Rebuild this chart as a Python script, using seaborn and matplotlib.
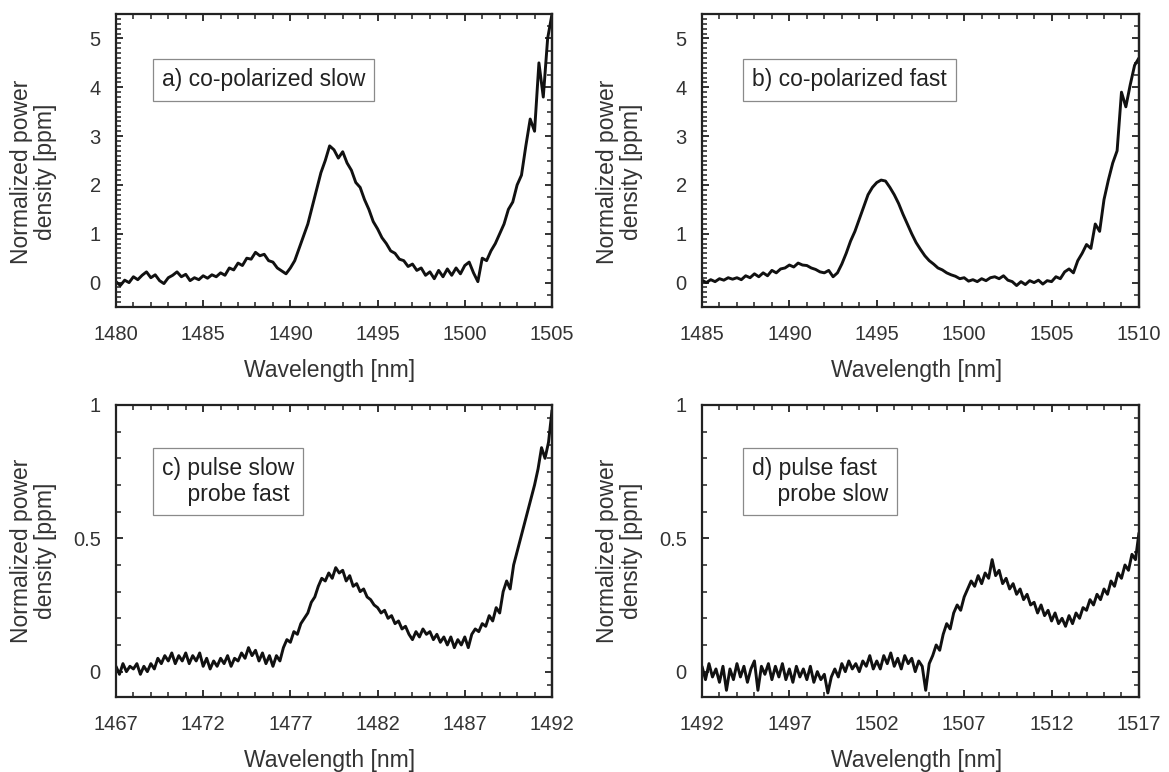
import numpy as np
import matplotlib
matplotlib.use("Agg")
import matplotlib.pyplot as plt
import seaborn as sns
from matplotlib.ticker import MultipleLocator, NullFormatter

# ---------------- data ----------------
a_start, a_stop = 1480.0, 1505.0
a_y = [0.02, -0.06, 0.05, 0.00, 0.12, 0.06, 0.15, 0.22, 0.10, 0.16,
       0.04, -0.02, 0.10, 0.15, 0.22, 0.12, 0.17, 0.04, 0.10, 0.06,
       0.14, 0.09, 0.16, 0.12, 0.20, 0.15, 0.30, 0.26, 0.40, 0.35,
       0.50, 0.48, 0.62, 0.55, 0.58, 0.45, 0.42, 0.30, 0.24, 0.18,
       0.30, 0.45, 0.70, 0.95, 1.20, 1.55, 1.90, 2.25, 2.50, 2.80,
       2.72, 2.55, 2.68, 2.45, 2.30, 2.05, 1.95, 1.70, 1.50, 1.25,
       1.10, 0.92, 0.80, 0.65, 0.60, 0.48, 0.45, 0.33, 0.38, 0.25,
       0.30, 0.15, 0.22, 0.08, 0.25, 0.12, 0.28, 0.15, 0.30, 0.18,
       0.35, 0.42, 0.20, 0.02, 0.50, 0.45, 0.65, 0.80, 1.00, 1.20,
       1.50, 1.65, 2.00, 2.20, 2.80, 3.35, 3.10, 4.50, 3.80, 5.00,
       5.50]

b_start, b_stop = 1485.0, 1510.0
b_y = [0.05, 0.00, 0.06, 0.02, 0.08, 0.05, 0.10, 0.07, 0.10, 0.06,
       0.14, 0.10, 0.18, 0.12, 0.20, 0.14, 0.25, 0.20, 0.28, 0.30,
       0.36, 0.32, 0.40, 0.36, 0.35, 0.30, 0.27, 0.22, 0.20, 0.25,
       0.12, 0.20, 0.38, 0.60, 0.85, 1.05, 1.30, 1.55, 1.80, 1.95,
       2.05, 2.10, 2.08, 1.95, 1.80, 1.62, 1.40, 1.20, 1.00, 0.82,
       0.68, 0.55, 0.45, 0.38, 0.30, 0.26, 0.20, 0.16, 0.13, 0.08,
       0.10, 0.03, 0.06, 0.02, 0.08, 0.04, 0.10, 0.12, 0.08, 0.14,
       0.05, 0.02, -0.06, 0.02, -0.04, 0.04, 0.00, 0.05, -0.03, 0.04,
       0.02, 0.12, 0.08, 0.22, 0.28, 0.20, 0.45, 0.60, 0.78, 0.70,
       1.20, 1.05, 1.70, 2.10, 2.45, 2.70, 3.90, 3.60, 4.05, 4.45,
       4.60]

c_start, c_stop = 1467.0, 1492.0
c_y = [0.02, -0.01, 0.03, 0.00, 0.02, 0.01, 0.03, -0.01, 0.02, 0.00,
       0.03, 0.01, 0.05, 0.03, 0.06, 0.04, 0.07, 0.03, 0.06, 0.04,
       0.07, 0.03, 0.06, 0.04, 0.07, 0.02, 0.05, 0.01, 0.04, 0.02,
       0.05, 0.03, 0.06, 0.02, 0.05, 0.04, 0.07, 0.05, 0.09, 0.06,
       0.08, 0.04, 0.07, 0.03, 0.06, 0.02, 0.06, 0.04, 0.09, 0.12,
       0.11, 0.15, 0.14, 0.18, 0.20, 0.22, 0.26, 0.28, 0.32, 0.35,
       0.34, 0.37, 0.35, 0.39, 0.37, 0.38, 0.34, 0.36, 0.32, 0.33,
       0.30, 0.31, 0.28, 0.27, 0.25, 0.24, 0.22, 0.23, 0.20, 0.21,
       0.18, 0.19, 0.16, 0.17, 0.14, 0.12, 0.15, 0.13, 0.16, 0.14,
       0.15, 0.12, 0.14, 0.11, 0.13, 0.10, 0.13, 0.09, 0.12, 0.10,
       0.13, 0.09, 0.14, 0.16, 0.15, 0.18, 0.17, 0.21, 0.19, 0.24,
       0.22, 0.30, 0.34, 0.31, 0.40, 0.45, 0.50, 0.55, 0.60, 0.65,
       0.70, 0.76, 0.84, 0.80, 0.86, 0.98]

d_start, d_stop = 1492.0, 1517.0
d_y = [0.02, -0.03, 0.03, -0.02, 0.01, -0.04, 0.02, -0.07, 0.01, -0.03,
       0.03, -0.02, 0.02, -0.04, 0.01, 0.04, -0.07, 0.02, -0.01, 0.03,
       -0.03, 0.02, -0.02, 0.03, -0.03, 0.01, -0.04, 0.02, -0.02, 0.01,
       -0.03, 0.02, -0.04, 0.00, -0.03, -0.01, -0.08, -0.02, 0.01, -0.02,
       0.03, 0.00, 0.04, 0.01, 0.03, 0.00, 0.04, 0.02, 0.06, 0.01,
       0.04, 0.01, 0.06, 0.03, 0.07, 0.02, 0.05, 0.01, 0.06, 0.03,
       0.05, 0.00, 0.04, 0.02, -0.07, 0.03, 0.06, 0.10, 0.08, 0.14,
       0.18, 0.16, 0.22, 0.25, 0.23, 0.28, 0.31, 0.34, 0.32, 0.36,
       0.33, 0.37, 0.35, 0.42, 0.36, 0.38, 0.33, 0.35, 0.31, 0.33,
       0.29, 0.31, 0.27, 0.29, 0.25, 0.26, 0.22, 0.25, 0.21, 0.23,
       0.19, 0.22, 0.18, 0.20, 0.17, 0.21, 0.18, 0.22, 0.20, 0.24,
       0.23, 0.27, 0.25, 0.29, 0.27, 0.31, 0.29, 0.34, 0.32, 0.37,
       0.35, 0.40, 0.38, 0.44, 0.42, 0.52]

a_xticks = [1480, 1485, 1490, 1495, 1500, 1505]
b_xticks = [1485, 1490, 1495, 1500, 1505, 1510]
c_xticks = [1467, 1472, 1477, 1482, 1487, 1492]
d_xticks = [1492, 1497, 1502, 1507, 1512, 1517]
top_yticks = [0, 1, 2, 3, 4, 5]
top_yticklabels = ["0", "1", "2", "3", "4", "5"]
bot_yticks = [0, 0.5, 1]
bot_yticklabels = ["0", "0.5", "1"]

labels = ["a) co-polarized slow", "b) co-polarized fast",
          "c) pulse slow\n    probe fast", "d) pulse fast\n    probe slow"]
xlabel = "Wavelength [nm]"
ylabel = "Normalized power\ndensity [ppm]"

# ---------------- styling ----------------
sns.set_style("white")
plt.rcParams["font.family"] = ["Liberation Sans", "DejaVu Sans"]

fig = plt.figure(figsize=(11.69, 7.72), dpi=100)

panels = [
    dict(pos=[0.0992, 0.6023, 0.3730, 0.3795], start=a_start, stop=a_stop, y=a_y,
         xt=a_xticks, yt=top_yticks, ytl=top_yticklabels, ylim=(-0.5, 5.5),
         lmin=0.1, rmin=0.25, lab=labels[0], box=(0.105, 0.775), ylc=0.46),
    dict(pos=[0.6005, 0.6023, 0.3738, 0.3795], start=b_start, stop=b_stop, y=b_y,
         xt=b_xticks, yt=top_yticks, ytl=top_yticklabels, ylim=(-0.5, 5.5),
         lmin=0.1, rmin=0.25, lab=labels[1], box=(0.114, 0.775), ylc=0.46),
    dict(pos=[0.0992, 0.0972, 0.3730, 0.3782], start=c_start, stop=c_stop, y=c_y,
         xt=c_xticks, yt=bot_yticks, ytl=bot_yticklabels, ylim=(-0.095, 1.0),
         lmin=0.1, rmin=0.05, lab=labels[2], box=(0.105, 0.738), ylc=0.50),
    dict(pos=[0.6005, 0.0972, 0.3738, 0.3782], start=d_start, stop=d_stop, y=d_y,
         xt=d_xticks, yt=bot_yticks, ytl=bot_yticklabels, ylim=(-0.095, 1.0),
         lmin=0.1, rmin=0.05, lab=labels[3], box=(0.114, 0.738), ylc=0.50),
]

txt_col = "#333333"
for p in panels:
    ax = fig.add_axes(p["pos"])
    x = np.linspace(p["start"], p["stop"], len(p["y"]))
    sns.lineplot(x=x, y=p["y"], ax=ax, color="#111111", linewidth=2.1, sort=False)
    ax.set_xlim(p["start"], p["stop"])
    ax.set_ylim(*p["ylim"])
    ax.set_xticks(p["xt"])
    ax.set_xticklabels([str(v) for v in p["xt"]])
    ax.xaxis.set_minor_locator(MultipleLocator(1))
    ax.set_yticks(p["yt"])
    ax.set_yticklabels(p["ytl"])
    ax.yaxis.set_minor_locator(MultipleLocator(p["lmin"]))
    ax.tick_params(axis="both", which="both", direction="in", colors="#222222",
                   labelcolor=txt_col, labelsize=14.5)
    ax.tick_params(axis="x", which="both", top=True, bottom=True, pad=13)
    ax.tick_params(axis="y", which="both", left=True, right=False, pad=11)
    ax.tick_params(which="major", length=5, width=1.3)
    ax.tick_params(which="minor", length=3.5, width=1.1)
    for s in ax.spines.values():
        s.set_linewidth(1.6)
        s.set_color("#222222")
        s.set_visible(True)
    sec = ax.secondary_yaxis("right")
    sec.set_yticks(p["yt"])
    sec.yaxis.set_minor_locator(MultipleLocator(p["rmin"]))
    sec.yaxis.set_major_formatter(NullFormatter())
    sec.tick_params(axis="y", which="both", direction="in", colors="#222222")
    sec.tick_params(which="major", length=5, width=1.3)
    sec.tick_params(which="minor", length=3.5, width=1.1)
    sec.spines["right"].set_linewidth(1.6)

    ax.set_xlabel(xlabel, fontsize=16.5, color=txt_col)
    ax.xaxis.set_label_coords(0.49, -0.178)
    ax.set_ylabel(ylabel, fontsize=16.5, color=txt_col, linespacing=1.05)
    ax.yaxis.set_label_coords(-0.135, p["ylc"])

    ax.text(p["box"][0], p["box"][1], p["lab"], transform=ax.transAxes,
            fontsize=16.5, color="#222222", ha="left", va="center", linespacing=1.2,
            bbox=dict(boxstyle="square,pad=0.4", fc="white", ec="#8a8a8a", lw=0.9))

fig.savefig("out.png", dpi=100)
